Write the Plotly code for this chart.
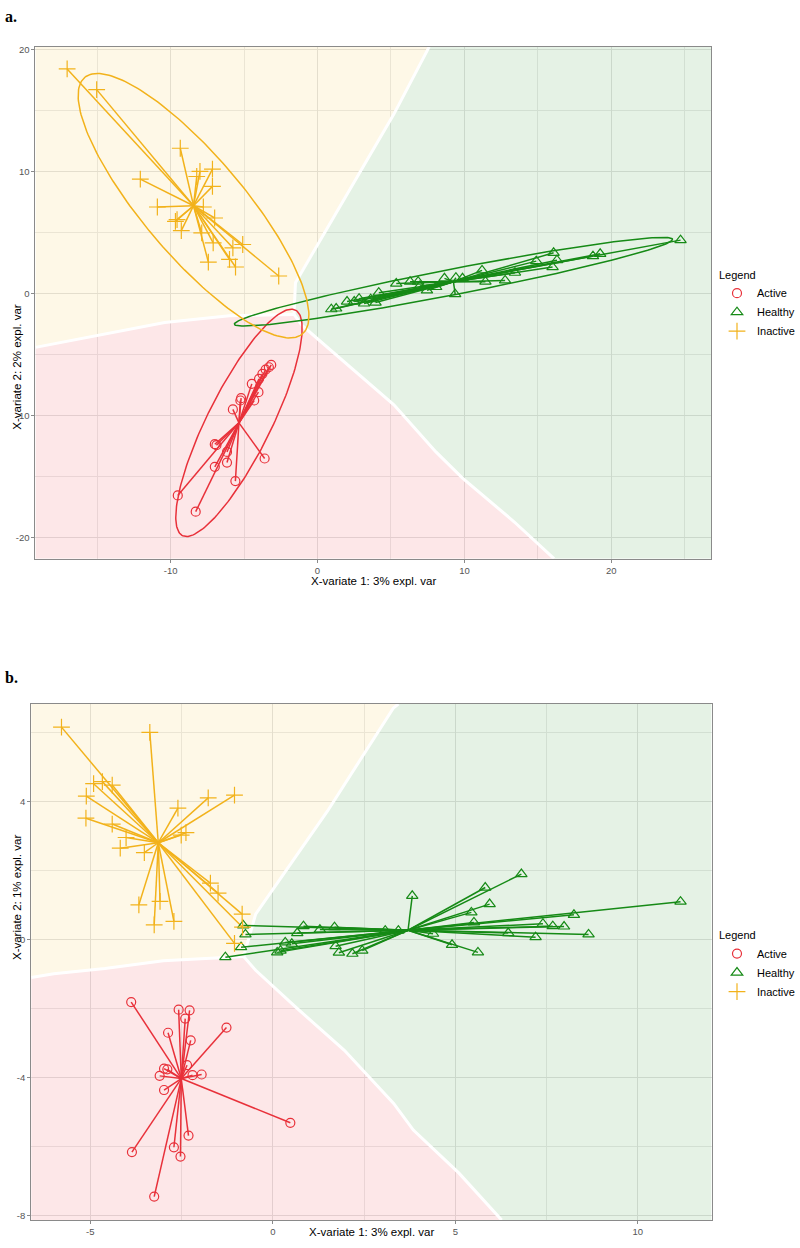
import numpy as np
import plotly.graph_objects as go

# ---------------- Panel a data ----------------
a_inact_x = [-17.04, -15.03, -9.34, -12.06, -10.9, -8.22, -8.0, -7.15, -7.15, -7.77, -7.0,
             -9.56, -9.67, -9.27, -7.88, -7.1, -5.09, -5.76, -7.43, -5.99, -5.58, -2.64]
a_inact_y = [18.4, 16.7, 11.9, 9.37, 7.09, 9.59, 10.0, 10.2, 8.78, 7.09, 6.19,
             6.06, 5.92, 5.16, 4.97, 4.16, 4.02, 3.75, 2.58, 2.8, 2.18, 1.44]

a_active_x = [-3.15, -3.31, -3.53, -3.75, -3.98, -4.47, -4.02, -4.31, -5.2, -5.25,
              -5.76, -6.99, -6.88, -6.16, -6.99, -6.16, -3.6, -5.59, -9.51, -8.29]
a_active_y = [-5.84, -6.03, -6.22, -6.57, -6.98, -7.39, -8.07, -8.75, -8.56, -8.75,
              -9.48, -12.33, -12.41, -12.96, -14.18, -13.83, -13.5, -15.35, -16.52, -17.85]

a_healthy_x = [0.94, 1.27, 2.01, 2.83, 3.17, 3.62, 4.17, 5.36, 6.3, 6.85, 7.45, 8.08, 8.64,
               9.42, 9.37, 9.87, 11.2, 11.43, 12.77, 13.44, 14.89, 16.07, 16.3, 16.0,
               18.75, 19.24, 24.71, 2.5, 3.95, 6.97]
a_healthy_y = [-1.28, -1.22, -0.65, -0.41, -0.81, -0.46, 0.08, 0.82, 0.98, 0.98, 0.27, 0.54, 1.25,
               1.3, -0.05, 1.25, 1.9, 0.98, 1.08, 1.71, 2.66, 3.34, 2.74, 2.17,
               3.07, 3.26, 4.38, -0.65, -0.73, 0.63]

# prediction-area boundaries (panel a)
a_yg_x = [7.6, 5.2, -1.5, -1.6]
a_yg_y = [20.2, 14.7, 0.9, -1.7]
a_yp_x = [-19.2, -14.5, -10.4, -6.0, -1.6]
a_yp_y = [-4.4, -3.3, -2.36, -1.82, -1.7]
a_pg_x = [-1.6, -1.05, 5.2, 8.06, 9.87, 13.4, 16.1]
a_pg_y = [-1.7, -2.6, -9.1, -12.96, -15.1, -18.7, -21.7]

# ---------------- Panel b data ----------------
b_inact_x = [-5.79, -3.37, -4.91, -4.67, -4.4, -5.11, -5.12, -4.4, -4.02, -4.18, -3.52, -2.6,
             -1.77, -1.05, -2.51, -2.38, -1.71, -1.5, -0.84, -1.05, -3.67, -3.25, -3.09, -2.71, -0.83]
b_inact_y = [6.15, 6.0, 4.51, 4.57, 4.47, 4.15, 3.51, 3.34, 2.95, 2.64, 2.51, 3.8,
             4.1, 4.18, 3.02, 3.09, 1.63, 1.34, 0.73, -0.12, 1.0, 0.42, 1.1, 0.52, 0.35]

b_active_x = [-3.88, -2.58, -2.28, -2.4, -1.27, -2.87, -2.25, -2.35, -2.98, -2.89,
              -3.1, -2.2, -1.95, -2.98, 0.48, -2.31, -3.86, -2.71, -2.53, -3.25]
b_active_y = [-1.82, -2.04, -2.06, -2.3, -2.56, -2.71, -2.93, -3.65, -3.75, -3.77,
              -3.96, -3.94, -3.92, -4.37, -5.32, -5.69, -6.17, -6.03, -6.3, -7.46]

b_healthy_x = [-1.3, -0.87, -0.75, -0.81, 0.12, 0.21, 0.34, 0.52, 0.67, 0.84, 1.29, 1.69, 1.72,
               1.81, 2.18, 2.45, 3.08, 3.44, 3.82, 4.39, 4.91, 5.62, 5.44, 5.51, 5.94, 5.82,
               6.81, 6.45, 7.2, 7.4, 7.67, 7.98, 8.25, 8.65, 11.17]
b_healthy_y = [-0.52, -0.23, 0.14, 0.4, -0.38, -0.33, -0.09, -0.13, 0.18, 0.38, 0.28, 0.35, -0.2,
               -0.39, -0.42, -0.33, 0.25, 0.25, 1.26, 0.16, -0.16, -0.38, 0.78, 0.49, 1.02, 1.5,
               1.89, 0.18, 0.06, 0.45, 0.38, 0.37, 0.71, 0.14, 1.09]

b_yg_x = [3.44, 3.3, 1.5, -0.47, -0.8]
b_yg_y = [6.82, 6.7, 3.72, 0.73, -0.5]
b_yp_x = [-6.62, -6.0, -4.6, -3.0, -0.8]
b_yp_y = [-1.11, -1.0, -0.85, -0.62, -0.5]
b_pg_x = [-0.8, -0.47, 0.62, 1.96, 3.31, 3.85, 5.1, 6.27]
b_pg_y = [-0.5, -0.9, -1.96, -3.22, -4.76, -5.53, -6.78, -8.14]

groups = ["Active", "Healthy", "Inactive"]
colors = {"Active": "#E8313A", "Healthy": "#168A16", "Inactive": "#F2B21B"}
fills = {"Active": "rgba(240,40,50,0.11)", "Healthy": "rgba(22,138,22,0.11)",
         "Inactive": "rgba(250,190,40,0.11)"}
symbols = {"Active": "circle-open", "Healthy": "triangle-up-open", "Inactive": "cross-thin-open"}
sizes = {"Active": 9, "Healthy": 10, "Inactive": 12}

A_RANGE_X = [-19.2, 26.8]
A_RANGE_Y = [-21.7, 20.2]
B_RANGE_X = [-6.62, 12.02]
B_RANGE_Y = [-8.14, 6.82]

FONT = "Liberation Sans, Arial, sans-serif"

fig = go.Figure()


def add_background(xa, ya, rx, ry, yg, yp, pg):
    (ygx, ygy), (ypx, ypy), (pgx, pgy) = yg, yp, pg
    x0, x1 = rx
    y0, y1 = ry
    yx = [x0] + ygx + ypx[::-1] + [x0]
    yy = [y1] + ygy + ypy[::-1] + [y1]
    gx = ygx + pgx[1:] + [x1, x1] + ygx[:1]
    gy = ygy + pgy[1:] + [y0, y1] + ygy[:1]
    px_ = ypx + pgx[1:] + [x0, x0]
    py_ = ypy + pgy[1:] + [y0, ypy[0]]
    for xs, ys, g in [(yx, yy, "Inactive"), (gx, gy, "Healthy"), (px_, py_, "Active")]:
        fig.add_trace(go.Scatter(x=xs, y=ys, fill="toself", fillcolor=fills[g], mode="none",
                                 showlegend=False, hoverinfo="skip", xaxis=xa, yaxis=ya))
    for bx, by in [(ygx, ygy), (ypx, ypy), (pgx, pgy)]:
        fig.add_trace(go.Scatter(x=bx, y=by, mode="lines", line=dict(color="white", width=3),
                                 showlegend=False, hoverinfo="skip", xaxis=xa, yaxis=ya))


def star(x, y, g, xa, ya):
    x = np.asarray(x); y = np.asarray(y)
    cx, cy = x.mean(), y.mean()
    lx, ly = [], []
    for xi, yi in zip(x, y):
        lx += [cx, xi, None]
        ly += [cy, yi, None]
    fig.add_trace(go.Scatter(x=lx, y=ly, mode="lines", line=dict(color=colors[g], width=1.5),
                             showlegend=False, hoverinfo="skip", xaxis=xa, yaxis=ya))


def ellipse(x, y, g, xa, ya):
    pts = np.column_stack([x, y])
    mu = pts.mean(axis=0)
    cov = np.cov(pts.T)
    vals, vecs = np.linalg.eigh(cov)
    t = np.linspace(0, 2 * np.pi, 200)
    circ = np.vstack([np.cos(t), np.sin(t)])
    e = mu[:, None] + 2.4477 * (vecs @ (np.sqrt(vals)[:, None] * circ))
    fig.add_trace(go.Scatter(x=e[0], y=e[1], mode="lines", line=dict(color=colors[g], width=1.5),
                             showlegend=False, hoverinfo="skip", xaxis=xa, yaxis=ya))


def points(x, y, g, xa, ya, legend):
    fig.add_trace(go.Scatter(x=x, y=y, mode="markers", name=g,
                             marker=dict(symbol=symbols[g], size=sizes[g], color=colors[g],
                                         line=dict(width=1.2, color=colors[g])),
                             legend=legend, showlegend=True, xaxis=xa, yaxis=ya))


# Panel a
add_background("x", "y", A_RANGE_X, A_RANGE_Y, (a_yg_x, a_yg_y), (a_yp_x, a_yp_y), (a_pg_x, a_pg_y))
a_data = {"Active": (a_active_x, a_active_y), "Healthy": (a_healthy_x, a_healthy_y),
          "Inactive": (a_inact_x, a_inact_y)}
for g in groups:
    star(*a_data[g], g, "x", "y")
for g in groups:
    ellipse(*a_data[g], g, "x", "y")
for g in groups:
    points(*a_data[g], g, "x", "y", "legend")

# Panel b
add_background("x2", "y2", B_RANGE_X, B_RANGE_Y, (b_yg_x, b_yg_y), (b_yp_x, b_yp_y), (b_pg_x, b_pg_y))
b_data = {"Active": (b_active_x, b_active_y), "Healthy": (b_healthy_x, b_healthy_y),
          "Inactive": (b_inact_x, b_inact_y)}
for g in groups:
    star(*b_data[g], g, "x2", "y2")
for g in groups:
    points(*b_data[g], g, "x2", "y2", "legend2")

axis_common = dict(showline=True, linecolor="#8A8A8A", linewidth=1, mirror=True,
                   ticks="outside", ticklen=3, tickcolor="#8A8A8A",
                   tickfont=dict(family=FONT, size=9.5, color="#555555"),
                   showgrid=True, gridcolor="#E2E2E2", gridwidth=1, zeroline=False,
                   tickmode="array")

a_xticks = [-10, 0, 10, 20]
a_yticks = [-20, -10, 0, 10, 20]
b_xticks = [-5, 0, 5, 10]
b_yticks = [-8, -4, 0, 4]
a_xminor = [-15, -5, 5, 15, 25]
a_yminor = [-15, -5, 5, 15]
b_xminor = [-2.5, 2.5, 7.5]
b_yminor = [-6, -2, 2, 6]

minor_style = dict(showgrid=True, gridcolor="#EAEAEA", gridwidth=0.6, ticklen=0)

legend_common = dict(font=dict(family=FONT, size=11), xanchor="left", yanchor="top",
                     bgcolor="rgba(0,0,0,0)", itemwidth=30, tracegroupgap=0)

fig.update_layout(
    width=800, height=1248,
    margin=dict(l=0, r=0, t=0, b=0),
    paper_bgcolor="white", plot_bgcolor="white",
    font=dict(family=FONT, color="#000000"),
    xaxis=dict(domain=[36 / 800, 723 / 800], range=A_RANGE_X, anchor="y",
               tickvals=a_xticks, ticktext=[str(v) for v in a_xticks],
               minor=dict(tickvals=a_xminor, **minor_style), **axis_common),
    yaxis=dict(domain=[1 - 557 / 1248, 1 - 44 / 1248], range=A_RANGE_Y, anchor="x",
               tickvals=a_yticks, ticktext=[str(v) for v in a_yticks],
               minor=dict(tickvals=a_yminor, **minor_style), **axis_common),
    xaxis2=dict(domain=[31.7 / 800, 723.3 / 800], range=B_RANGE_X, anchor="y2",
                tickvals=b_xticks, ticktext=[str(v) for v in b_xticks],
                minor=dict(tickvals=b_xminor, **minor_style), **axis_common),
    yaxis2=dict(domain=[1 - 1220 / 1248, 1 - 702.7 / 1248], range=B_RANGE_Y, anchor="x2",
                tickvals=b_yticks, ticktext=[str(v) for v in b_yticks],
                minor=dict(tickvals=b_yminor, **minor_style), **axis_common),
    legend=dict(title=dict(text="Legend", font=dict(family=FONT, size=11)),
                x=729 / 800, y=1 - 262 / 1248, **legend_common),
    legend2=dict(title=dict(text="Legend", font=dict(family=FONT, size=11)),
                 x=729 / 800, y=1 - 924 / 1248, **legend_common),
    showlegend=True,
)

ann = []
ann.append(dict(text="<b>a.</b>", x=3 / 800, y=1 - 14 / 1248, xref="paper", yref="paper",
                xanchor="left", yanchor="middle", showarrow=False,
                font=dict(family="Liberation Serif, Times New Roman, serif", size=16)))
ann.append(dict(text="<b>b.</b>", x=3 / 800, y=1 - 676 / 1248, xref="paper", yref="paper",
                xanchor="left", yanchor="middle", showarrow=False,
                font=dict(family="Liberation Serif, Times New Roman, serif", size=16)))
ann.append(dict(text="X-variate 1: 3% expl. var", x=380 / 800, y=1 - 579 / 1248,
                xref="paper", yref="paper", showarrow=False,
                font=dict(family=FONT, size=11.5)))
ann.append(dict(text="X-variate 2: 2% expl. var", x=9 / 800, y=1 - 300 / 1248,
                xref="paper", yref="paper", showarrow=False, textangle=-90,
                font=dict(family=FONT, size=11.5)))
ann.append(dict(text="X-variate 1: 3% expl. var", x=378 / 800, y=1 - 1240 / 1248,
                xref="paper", yref="paper", showarrow=False,
                font=dict(family=FONT, size=11.5)))
ann.append(dict(text="X-variate 2: 1% expl. var", x=9 / 800, y=1 - 961 / 1248,
                xref="paper", yref="paper", showarrow=False, textangle=-90,
                font=dict(family=FONT, size=11.5)))
fig.update_layout(annotations=ann)

fig.write_html("out.html", config={"displayModeBar": False},
               post_script="document.body.style.margin='0px';document.body.style.overflow='hidden';")
